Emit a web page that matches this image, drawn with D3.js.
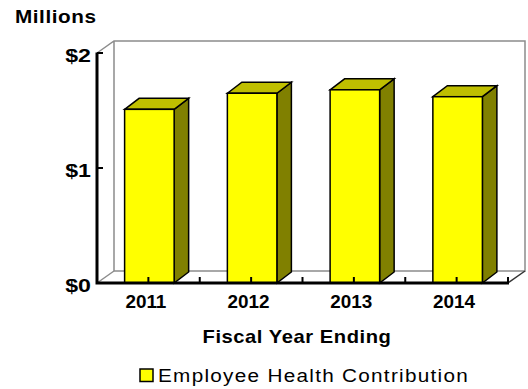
<!DOCTYPE html>
<html>
<head>
<meta charset="utf-8">
<script src="https://cdn.jsdelivr.net/npm/d3@7"></script>
<style>
html,body{margin:0;padding:0;background:#fff}
svg{display:block}
text{font-family:"Liberation Sans",Arial,sans-serif;fill:#000}
.b{font-weight:bold}
</style>
</head>
<body>
<script>
const years = ["2011", "2012", "2013", "2014"];
const contributions = [1.51, 1.65, 1.68, 1.62];
const yTickValues = [0, 1, 2];
const seriesName = "Employee Health Contribution";

const W = 528, H = 389;
const depthX = 17, depthY = -12;
const svg = d3.select("body").append("svg").attr("width", W).attr("height", H);

const x = d3.scaleBand().domain(years).range([97, 508]).paddingInner(0.518).paddingOuter(0.259);
const y = d3.scaleLinear().domain([0, 2]).range([283, 53]);
const grey = "#8c8c8c";

// Back wall and floor of the 3D box
const wall = svg.append("g").attr("fill", "none").attr("stroke", grey).attr("stroke-width", 1.5);
const [xl, xr] = x.range();
wall.append("path").attr("d",
  `M${xl},${y(2)}L${xl + depthX},${y(2) + depthY}H${xr + depthX}V${y(0) + depthY}H${xl + depthX}V${y(2) + depthY}`);
wall.append("path").attr("d", `M${xl + depthX},${y(0) + depthY}L${xl},${y(0)}`);
wall.append("path").attr("d", `M${xr + depthX},${y(0) + depthY}L${xr},${y(0)}`).attr("stroke", "#333");

// Bars: front, top and side faces
const barDepthX = 14.5, barDepthY = -11, barShift = 1;
const bars = svg.append("g").attr("stroke", "#000").attr("stroke-width", 1.5)
  .selectAll("g").data(years.map((yr, i) => ({ yr, v: contributions[i] }))).join("g");
bars.append("path").attr("fill", "#808000").attr("d", d => {
  const r = x(d.yr) + barShift + x.bandwidth(), t = y(d.v), b = y(0);
  return `M${r},${t}l${barDepthX},${barDepthY}V${b + barDepthY}L${r},${b}Z`;
});
bars.append("path").attr("fill", "#bfbf00").attr("d", d => {
  const l = x(d.yr) + barShift, t = y(d.v);
  return `M${l},${t}l${barDepthX},${barDepthY}h${x.bandwidth()}l${-barDepthX},${-barDepthY}Z`;
});
bars.append("rect").attr("fill", "#ffff00")
  .attr("x", d => x(d.yr) + barShift).attr("y", d => y(d.v))
  .attr("width", x.bandwidth()).attr("height", d => y(0) - y(d.v));

// Axes
const axes = svg.append("g").attr("stroke", "#000").attr("fill", "none");
axes.append("path").attr("stroke-width", 3).attr("d", `M${xl},${y(2) - 0.5}V${y(0)}H${xr + 1}`);
axes.selectAll(".yt").data(yTickValues).join("path").attr("class", "yt").attr("stroke-width", 2)
  .attr("d", d => `M${xl},${y(d)}h6`);
const step = x.step();
const tickXs = d3.range(0, 9).map(i => xl + i * step / 2);
axes.selectAll(".xt").data(tickXs).join("path").attr("class", "xt").attr("stroke-width", 2)
  .attr("d", d => `M${d},${y(0)}v-6`);

// Labels use a slightly widened typeface, applied as a horizontal scale
const place = (px, py, sx) => `translate(${px},${py}) scale(${sx},1)`;

svg.selectAll(".yl").data(yTickValues).join("text").attr("class", "yl b")
  .attr("transform", d => place(91, y(d) + 9, 1.22)).attr("text-anchor", "end")
  .attr("font-size", 19)
  .text(d => "$" + d);
svg.selectAll(".xl").data(years).join("text").attr("class", "xl b")
  .attr("transform", d => place(x(d) + x.bandwidth() / 2 - 2.5, 308, 1.05)).attr("text-anchor", "middle")
  .attr("font-size", 18)
  .text(d => d);
svg.append("text").attr("class", "b").attr("transform", place(15, 23, 1.15))
  .attr("font-size", 18).attr("letter-spacing", 0.5).text("Millions");
svg.append("text").attr("class", "b").attr("transform", place(297, 342.5, 1.12)).attr("text-anchor", "middle")
  .attr("font-size", 18).attr("letter-spacing", 0.5).text("Fiscal Year Ending");

// Legend
svg.append("rect").attr("x", 140).attr("y", 369).attr("width", 13).attr("height", 12.5)
  .attr("fill", "#ffff00").attr("stroke", "#000").attr("stroke-width", 1.5);
svg.append("text").attr("transform", place(158, 381.5, 1.12))
  .attr("font-size", 18.5).attr("letter-spacing", 1.15).text(seriesName);
</script>
</body>
</html>
